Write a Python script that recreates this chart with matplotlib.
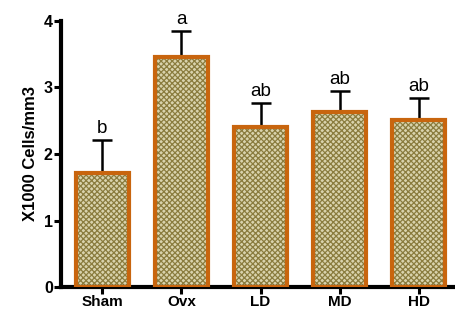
import numpy as np
import matplotlib.pyplot as plt

plt.rcParams['font.family'] = ['Liberation Sans', 'DejaVu Sans']
plt.rcParams['hatch.linewidth'] = 0.9

groups = ["Sham", "Ovx", "LD", "MD", "HD"]
means = [1.71, 3.46, 2.41, 2.63, 2.51]
errs = [0.50, 0.39, 0.36, 0.32, 0.33]
letters = ["b", "a", "ab", "ab", "ab"]

fig = plt.figure(figsize=(4.56, 3.13), dpi=100)
ax = fig.add_axes([0.134, 0.083, 0.866, 0.85])

x = np.arange(len(groups))
# checkered fill first, then orange outline on top
ax.bar(x, means, width=0.67, color='#d9d3ad', edgecolor='#8a7c3e',
       linewidth=0, hatch='xxxxxx', zorder=2)
ax.bar(x, means, width=0.67, fill=False, edgecolor='#c8650e',
       linewidth=3, zorder=3)
ax.errorbar(x, means, yerr=[np.zeros(len(errs)), errs], fmt='none',
            ecolor='black', elinewidth=1.8, capsize=7, capthick=1.8, zorder=1)

for xi, m, e, l in zip(x, means, errs, letters):
    ax.text(xi, m + e + 0.04, l, ha='center', va='bottom', fontsize=13.5)

ax.set_xlim(-0.52, 4.47)
ax.set_ylim(0, 4)
ax.set_yticks([0, 1, 2, 3, 4])
ax.set_xticks(x)
ax.set_xticklabels(groups, fontsize=11, fontweight='bold')
for t in ax.get_yticklabels():
    t.set_fontweight('bold')
    t.set_fontsize(11.5)
ax.set_ylabel("X1000 Cells/mm3", fontsize=12, fontweight='bold', labelpad=4)

for s in ['top', 'right']:
    ax.spines[s].set_visible(False)
for s in ['left', 'bottom']:
    ax.spines[s].set_linewidth(3)
ax.tick_params(width=2.2, length=5, pad=1)

fig.savefig("out.png", dpi=100)
